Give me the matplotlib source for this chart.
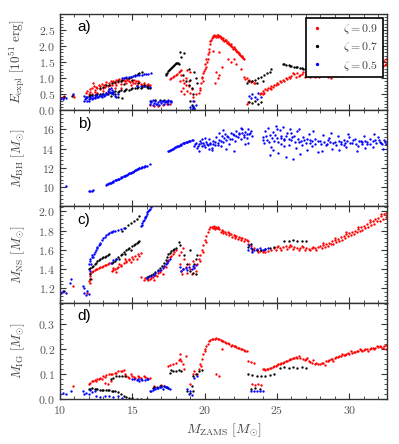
import numpy as np
import matplotlib
matplotlib.use("Agg")
from matplotlib import pyplot as plt
from matplotlib.ticker import AutoMinorLocator

plt.rcParams['font.family'] = 'serif'
plt.rcParams['font.serif'] = ['cmr10']
plt.rcParams['mathtext.fontset'] = 'cm'
plt.rcParams['axes.formatter.use_mathtext'] = True

# ---- data: (M_ZAMS, value) ----
a_red = [(10.2,0.42),(10.3,0.45),(10.9,0.48),(10.95,0.42),
    (11.8,0.55),(11.9,0.6),(12.0,0.52),(12.1,0.65),(12.2,0.7),(12.3,0.85),(12.4,0.62),(12.5,0.72),(12.6,0.68),
    (12.7,0.78),(12.8,0.75),(12.9,0.82),(13.0,0.7),(13.1,0.8),(13.2,0.88),(13.3,0.76),(13.4,0.85),(13.5,0.9),
    (13.6,0.8),(13.7,0.92),(13.8,0.86),(13.9,0.95),(14.0,0.88),(14.1,0.97),(14.2,0.82),(14.3,0.93),(14.4,1.0),
    (14.5,0.9),(14.6,0.85),(14.7,0.98),(14.8,0.92),(14.9,0.78),(15.0,0.9),(15.1,0.95),(15.2,0.85),(15.3,0.8),
    (15.4,0.9),(15.6,0.82),(15.8,0.85),(16.0,0.8),(16.2,0.78),
    (12.05,0.58),(12.35,0.75),(12.45,0.58),(12.75,0.65),(13.05,0.78),(13.15,0.72),(13.45,0.78),(13.65,0.88),
    (13.85,0.8),(14.05,0.95),(14.25,0.9),(14.45,0.95),(14.65,0.93),(14.85,0.88),(15.05,0.85),(15.25,0.92),
    (15.5,0.88),(15.7,0.8),(15.9,0.78),(16.1,0.82),
    (12.2,0.5),(12.6,0.55),(13.0,0.6),(13.4,0.65),(13.8,0.7),(14.2,0.7),
    (16.2,0.15),(16.5,0.12),(16.8,0.14),(17.1,0.15),(17.4,0.18),(17.6,0.2),
    (17.6,0.97),(17.7,1.0),(17.8,1.03),(17.9,1.06),(18.0,1.1),(18.1,1.14),(18.2,1.18),(18.3,1.22),(18.4,1.26),
    (18.4,1.1),(18.5,0.95),(18.6,0.85),(18.7,0.8),(18.5,0.7),(18.8,0.6),(18.9,0.75),(19.0,0.55),(19.1,0.65),
    (18.7,1.0),(18.9,0.9),(19.2,0.4),(19.3,0.3),(18.6,0.5),(18.4,0.6),(19.4,0.5),(18.3,0.9),(19.0,1.2),(18.8,1.25),
    (19.6,0.55),(19.7,0.7),(19.75,0.85),(19.8,1.0),(19.9,1.15),(20.0,1.3),(20.05,1.45),(20.1,1.6),(20.2,1.75),
    (20.3,1.9),(20.35,2.05),(20.4,2.15),(19.9,0.9),(20.1,1.35),(20.25,1.6),
    (19.65,0.62),(19.85,1.05),(19.95,1.22),(20.15,1.5),(20.3,1.8),(20.45,2.2),
    (20.5,2.25),(20.6,2.3),(20.7,2.32),(20.8,2.28),(20.9,2.33),(21.0,2.3),(21.1,2.28),(21.2,2.22),(21.3,2.2),
    (21.4,2.18),(21.5,2.15),(21.6,2.12),(21.7,2.05),(21.8,2.0),(21.9,1.98),(22.0,1.95),(22.1,1.9),(22.2,1.85),
    (22.3,1.8),(22.4,1.75),(22.5,1.7),(22.6,1.65),(22.7,1.6),
    (20.55,2.28),(20.65,2.33),(20.75,2.3),(20.85,2.35),(20.95,2.28),(21.05,2.32),(21.15,2.25),(21.25,2.24),
    (21.35,2.17),(21.45,2.2),(21.55,2.1),(21.65,2.08),(21.75,2.02),(21.85,2.05),(21.95,1.92),(22.05,1.98),
    (22.15,1.88),(22.25,1.82),(22.35,1.78),(22.45,1.72),(22.55,1.68),(22.65,1.62),
    (20.6,1.85),(21.0,1.8),(21.6,1.6),(21.8,1.5),(22.2,1.45),(22.5,1.3),(20.8,1.2),(21.0,1.1),(20.9,1.0),
    (20.7,0.85),(21.2,1.35),(22.0,1.6),
    (22.7,1.05),(22.8,0.98),(22.9,1.0),(23.0,0.92),(23.1,0.95),(23.2,0.88),(23.3,0.9),(23.4,0.86),(23.5,0.85),
    (22.9,0.2),(23.0,0.25),
    (23.8,0.52),(24.0,0.6),(24.2,0.65),(24.4,0.7),(24.6,0.75),(24.8,0.8),(25.0,0.85),(25.2,0.9),(25.4,0.95),
    (25.6,1.0),(25.8,1.05),(26.0,1.08),(24.1,0.55),(24.5,0.68),(24.9,0.78),(25.3,0.88),(25.7,0.98),
    (23.9,0.55),(24.3,0.62),(24.7,0.72),(25.1,0.82),(25.5,0.92),(25.9,1.02),(24.0,0.5),(24.6,0.65),
    (26.2,1.12),(26.4,1.15),(26.6,1.1),(26.8,1.18),(27.0,1.12),(27.2,1.08),(27.4,1.15),(27.6,1.05),(27.8,1.1),
    (28.0,1.12),(28.2,1.08),(28.4,1.15),(28.6,1.1),(28.8,1.18),(29.0,1.15),(29.2,1.2),(29.4,1.22),(29.6,1.18),
    (29.8,1.25),(30.0,1.28),(30.2,1.22),(30.4,1.3),(30.6,1.32),(30.8,1.28),(31.0,1.35),(31.2,1.38),(31.4,1.32),
    (31.6,1.4),(31.8,1.42),(32.0,1.45),(32.2,1.48),(32.4,1.52),(32.55,1.6),
    (26.3,1.05),(26.9,1.05),(27.5,1.2),(28.1,1.2),(28.7,1.02),(29.3,1.1),(29.9,1.15),(30.5,1.4),(31.1,1.25),
    (31.7,1.5),(32.3,1.38),(32.5,1.45),
    (26.1,1.15),(26.5,1.08),(26.7,1.14),(27.1,1.17),(27.3,1.03),(27.7,1.14),(27.9,1.05),(28.3,1.1),(28.5,1.05),
    (28.9,1.12),(29.1,1.08),(29.5,1.15),(29.7,1.25),(30.1,1.2),(30.3,1.35),(30.7,1.25),(30.9,1.35),(31.3,1.42),
    (31.5,1.3),(31.9,1.38),(32.1,1.52),(32.45,1.42),(27.9,1.18),(29.0,1.25),(30.0,1.18)]

a_black = [(10.3,0.4),(10.85,0.45),
    (11.8,0.42),(12.0,0.45),(12.2,0.47),(12.4,0.48),(12.6,0.5),(12.8,0.52),(13.0,0.5),(13.2,0.55),(13.4,0.58),
    (13.6,0.55),(13.8,0.6),(14.0,0.58),(14.2,0.62),(14.4,0.6),(14.6,0.65),(14.8,0.62),(15.0,0.68),(15.2,0.7),
    (15.4,0.72),(15.6,0.7),(15.8,0.74),(16.0,0.72),(16.2,0.7),(13.5,0.45),(14.0,0.4),(14.3,0.38),(13.8,0.5),
    (12.1,0.48),(12.5,0.47),(12.9,0.5),(13.3,0.52),(13.7,0.58),(14.1,0.6),(14.5,0.62),(14.9,0.66),(15.3,0.68),
    (15.7,0.72),(16.1,0.68),
    (12.8,0.7),(13.2,0.78),(13.6,0.85),(14.0,0.9),(14.3,0.95),(14.6,1.0),(14.9,1.05),(15.2,1.1),(15.5,1.15),
    (15.7,1.2),(14.4,0.82),(15.0,0.95),(15.4,0.85),(15.8,0.8),(16.1,0.75),
    (13.0,0.72),(13.4,0.8),(13.8,0.88),(14.2,0.92),(14.8,1.02),(15.4,1.12),
    (16.3,0.3),(16.6,0.32),(16.9,0.33),(17.2,0.32),(17.5,0.3),
    (17.3,1.1),(17.4,1.15),(17.5,1.22),(17.6,1.28),(17.7,1.33),(17.8,1.38),(17.9,1.42),(18.0,1.46),(18.1,1.48),
    (18.2,1.45),(18.3,1.8),(18.6,1.78),(18.4,1.65),
    (17.35,1.13),(17.55,1.25),(17.75,1.35),(17.95,1.44),(18.15,1.47),
    (18.5,1.1),(18.7,0.9),(18.9,0.8),(19.0,0.95),(19.1,0.7),(19.2,0.5),(19.0,0.3),(19.1,0.15),(19.2,0.1),
    (19.3,0.05),(18.9,1.3),(19.4,1.0),(19.5,0.85),(19.3,1.2),
    (22.9,0.85),(23.1,0.92),(23.3,0.9),(23.5,0.95),(23.7,1.0),(23.9,1.05),(24.1,1.1),(24.3,1.15),(24.5,1.2),
    (24.6,1.3),(23.6,0.85),(24.0,0.92),
    (23.1,0.25),(23.3,0.22),(23.5,0.28),(23.7,0.2),(23.9,0.25),
    (25.4,1.45),(25.6,1.42),(25.8,1.4),(26.0,1.38),(26.2,1.36),(26.4,1.34),(26.6,1.32),(26.8,1.3),(27.0,1.28),
    (25.5,1.44),(25.9,1.38),(26.3,1.35),(26.7,1.31),(26.9,1.3)]

a_blue = [(10.0,0.35),(10.1,0.38),(10.2,0.36),(10.4,0.38),(10.9,0.52),
    (11.7,0.3),(11.8,0.38),(11.9,0.42),(12.0,0.35),(12.1,0.4),(12.2,0.44),(12.3,0.38),(12.4,0.42),(12.5,0.46),
    (12.6,0.4),(12.7,0.45),(12.8,0.48),(12.9,0.42),(13.0,0.5),(13.1,0.46),(13.2,0.55),(13.3,0.6),(13.4,0.65),
    (13.5,0.55),(13.6,0.62),(13.7,0.5),(13.8,0.45),(13.9,0.4),(14.0,0.52),(11.7,0.45),(12.0,0.3),
    (11.75,0.35),(11.85,0.3),(12.05,0.38),(12.25,0.35),(12.45,0.38),(12.65,0.42),(12.85,0.44),(13.05,0.45),
    (13.25,0.5),(13.45,0.58),(13.55,0.68),(13.65,0.56),
    (14.3,1.0),(14.6,1.03),(14.9,1.05),(15.2,1.08),(15.5,1.1),(15.8,1.12),(16.1,1.14),(16.3,1.16),
    (14.45,1.02),(14.75,1.04),(15.05,1.06),(15.35,1.09),(15.65,1.11),(15.95,1.13),
    (15.3,0.75),(15.6,0.76),(15.9,0.74),(16.2,0.72),
    (16.2,0.2),(16.3,0.25),(16.4,0.15),(16.5,0.22),(16.6,0.28),(16.7,0.18),(16.8,0.25),(16.9,0.3),(17.0,0.22),
    (17.1,0.28),(17.2,0.2),(17.3,0.3),(17.4,0.25),(17.5,0.32),(17.6,0.28),(17.7,0.3),
    (16.25,0.3),(16.45,0.32),(16.65,0.2),(16.85,0.15),(17.05,0.3),(17.25,0.25),(17.45,0.2),(17.65,0.25),
    (19.0,0.1),(19.1,0.05),(19.2,0.12),(19.3,0.08),(19.4,0.15),(19.2,0.3),
    (23.1,0.45),(23.3,0.5),(23.5,0.42),(23.7,0.55),(23.9,0.4),(23.2,0.38),(23.6,0.35)]

b_blue = [(10.45,10.12),(12.0,9.65),(12.1,9.66),(12.2,9.65),(12.3,9.67),
    (13.2,10.25),(13.3,10.3),(13.4,10.4),(13.5,10.45),(13.6,10.55),(13.7,10.6),(13.8,10.7),(13.9,10.75),
    (14.0,10.85),(14.1,10.9),(14.2,11.0),(14.3,11.05),(14.4,11.15),(14.5,11.2),(14.6,11.3),(14.7,11.35),
    (14.8,11.45),(14.9,11.5),(15.0,11.6),(15.1,11.7),(15.2,11.75),(15.3,11.85),(15.4,11.9),(15.5,12.0),
    (15.6,12.05),(15.7,12.1),(15.8,12.15),(15.9,12.2),(16.2,12.45),
    (13.25,10.3),(13.45,10.45),(13.65,10.55),(13.85,10.75),(14.05,10.85),(14.25,11.05),(14.45,11.15),
    (14.65,11.3),(14.85,11.5),(15.05,11.6),(15.25,11.8),(15.45,11.95),(15.65,12.1),(15.85,12.2),(16.0,12.25),
    (17.5,13.75),(17.6,13.85),(17.7,13.9),(17.8,14.0),(17.9,14.1),(18.0,14.2),(18.1,14.25),(18.2,14.3),
    (18.3,14.4),(18.4,14.45),(18.5,14.55),(18.6,14.6),(18.7,14.7),(18.8,14.75),(18.9,14.8),(19.0,14.85),
    (17.55,13.8),(17.75,13.95),(17.95,14.15),(18.15,14.3),(18.35,14.4),(18.55,14.6),(18.75,14.7),(18.95,14.85),
    (19.1,14.9),(19.2,14.95),
    (19.3,14.3),(19.4,14.6),(19.5,14.1),(19.6,14.5),(19.7,14.8),(19.8,14.3),(19.9,14.6),(20.0,14.2),(20.1,14.7),
    (20.2,14.4),(20.3,15.0),(20.4,14.5),(20.5,14.1),(20.6,14.8),(20.7,14.4),(20.8,15.2),(20.9,14.6),(21.0,14.9),
    (21.1,14.3),(21.2,15.3),(21.3,14.7),(21.4,15.5),(21.5,14.9),(21.6,15.2),(21.7,14.5),(21.8,15.6),(21.9,15.0),
    (22.0,15.4),(22.1,14.8),(22.2,15.8),(22.3,15.2),(22.4,15.6),(22.5,15.0),(22.6,16.0),(22.7,15.4),(22.8,15.7),
    (22.9,15.1),(23.0,16.1),(23.1,15.5),(23.2,15.8),(23.3,15.3),
    (19.6,13.8),(20.0,15.1),(20.5,13.9),(21.0,15.6),(21.5,14.0),(22.0,13.8),(22.5,16.2),(23.0,14.6),(20.3,14.0),
    (21.3,15.9),(22.8,14.5),(19.8,15.0),
    (19.35,14.5),(19.55,14.3),(19.75,14.55),(19.95,14.4),(20.15,14.5),(20.35,14.6),(20.55,14.5),(20.75,14.7),
    (20.95,14.4),(21.15,14.8),(21.35,15.1),(21.55,15.3),(21.75,15.0),(21.95,15.5),(22.15,15.3),(22.35,15.5),
    (22.55,15.6),(22.75,15.2),(22.95,15.5),(23.15,15.6),
    (24.0,15.2),(24.1,14.6),(24.2,15.8),(24.3,14.9),(24.4,16.2),(24.5,15.4),(24.6,14.2),(24.7,15.7),(24.8,14.8),
    (24.9,16.4),(25.0,15.1),(25.1,13.6),(25.2,15.9),(25.3,14.5),(25.4,16.3),(25.5,15.0),(25.6,13.1),(25.7,15.6),
    (25.8,14.4),(25.9,16.0),(26.0,14.9),(26.1,12.9),(26.2,15.3),(26.3,14.1),(26.4,15.8),(26.5,14.7),(26.6,13.5),
    (26.8,15.2),(27.0,14.6),(27.2,15.5),(27.4,14.3),(27.6,15.0),(27.8,13.7),(28.0,14.8),(28.2,15.4),(28.4,14.4),
    (28.6,15.1),(28.8,14.0),(29.0,14.7),(29.2,15.3),(29.4,14.5),(29.6,14.9),(29.8,14.2),(30.0,15.2),(30.2,14.6),
    (30.4,15.0),(30.6,14.3),(30.8,14.8),(31.0,15.3),(31.2,14.5),(31.4,15.0),(31.6,14.2),(31.8,14.9),(32.0,15.2),
    (32.2,14.6),(32.4,14.9),(32.55,14.5),
    (24.5,13.3),(25.0,16.1),(25.5,14.3),(26.0,15.6),(26.5,16.0),(27.1,13.9),(27.5,15.8),(28.1,13.8),(28.7,15.6),
    (29.3,13.9),(29.9,15.5),(30.5,13.8),(31.1,14.1),(31.7,15.5),(32.3,14.0),(27.3,14.9),(28.5,14.9),(29.7,14.6),
    (30.9,14.7),(32.1,14.7),(26.7,14.4),(25.3,15.1),(24.7,13.9),
    (24.05,14.9),(24.25,15.3),(24.45,14.7),(24.65,15.1),(24.85,15.4),(25.05,14.7),(25.25,15.3),(25.45,14.9),
    (25.65,15.3),(25.85,15.0),(26.05,15.2),(26.25,14.7),(26.45,15.0),(26.65,14.8),(26.85,14.9),(27.05,15.0),
    (27.25,14.6),(27.45,14.8),(27.65,14.5),(27.85,14.8),(28.05,14.5),(28.25,14.7),(28.45,14.5),(28.65,14.7),
    (28.85,14.6),(29.05,14.4),(29.25,14.8),(29.45,14.7),(29.65,14.4),(29.85,14.8),(30.05,14.6),(30.25,14.9),
    (30.45,14.5),(30.65,14.8),(30.85,14.5),(31.05,14.8),(31.25,14.7),(31.45,14.5),(31.65,14.8),(31.85,14.6),
    (32.05,14.9),(32.25,14.5),(32.45,14.7)]

c_red = [(10.2,1.16),(10.9,1.22),
    (11.9,1.15),(12.0,1.28),(12.05,1.33),(12.1,1.36),(12.15,1.3),(12.1,1.25),
    (12.2,1.37),(12.4,1.39),(12.6,1.4),(12.8,1.42),(13.0,1.43),(13.2,1.44),(13.4,1.46),
    (12.3,1.38),(12.5,1.4),(12.7,1.41),(12.9,1.42),(13.1,1.44),(13.3,1.45),
    (13.6,1.38),(13.8,1.4),(14.0,1.42),(14.2,1.44),(14.4,1.46),(14.6,1.48),(14.8,1.5),(15.0,1.52),(15.2,1.54),
    (15.4,1.56),(15.6,1.57),(13.7,1.41),(14.1,1.45),(14.5,1.5),(14.9,1.47),(15.3,1.5),(13.9,1.37),
    (13.65,1.39),(13.95,1.41),(14.25,1.43),(14.55,1.47),(14.75,1.49),(15.05,1.5),(15.45,1.54),
    (15.8,1.29),(16.0,1.3),(16.2,1.3),(16.4,1.32),(16.6,1.34),(16.8,1.36),(17.0,1.39),(17.2,1.43),(17.4,1.47),
    (17.6,1.52),(17.8,1.56),(18.0,1.6),(15.6,1.32),(16.5,1.29),(17.1,1.35),
    (15.9,1.31),(16.1,1.29),(16.3,1.31),(16.7,1.33),(16.9,1.37),(17.3,1.42),(17.5,1.49),(17.7,1.54),(17.9,1.58),
    (18.2,1.55),(18.3,1.45),(18.4,1.38),(18.5,1.62),(18.6,1.5),(18.7,1.42),(18.8,1.36),(18.9,1.45),(19.0,1.4),
    (19.1,1.35),(19.2,1.48),(18.35,1.58),(19.3,1.42),(19.4,1.38),(18.45,1.35),
    (19.5,1.45),(19.6,1.5),(19.7,1.55),(19.8,1.6),(19.9,1.65),(20.0,1.7),(20.1,1.74),(20.2,1.78),(20.3,1.82),
    (20.4,1.84),(19.7,1.48),(19.9,1.58),(20.1,1.68),
    (20.5,1.84),(20.6,1.84),(20.7,1.83),(20.8,1.84),(20.9,1.83),(21.0,1.82),(21.2,1.81),(21.4,1.79),(21.6,1.78),
    (21.8,1.76),(22.0,1.75),(22.2,1.74),(22.4,1.73),(22.6,1.72),(22.8,1.71),(23.0,1.69),(21.1,1.79),(21.5,1.76),
    (21.9,1.73),(22.3,1.71),(22.7,1.69),(23.0,1.66),
    (20.55,1.83),(20.65,1.85),(20.75,1.82),(20.85,1.83),(20.95,1.84),(21.3,1.8),(21.7,1.77),(22.1,1.74),
    (22.5,1.72),(22.9,1.7),(21.3,1.77),(21.7,1.75),(22.1,1.72),(22.5,1.7),
    (23.2,1.64),(23.4,1.62),(23.6,1.6),(23.8,1.59),(24.0,1.58),(24.2,1.58),(24.4,1.59),(24.6,1.6),(23.3,1.59),
    (23.7,1.58),(24.1,1.6),
    (24.8,1.62),(25.0,1.63),(25.2,1.62),(25.4,1.63),(25.6,1.64),(25.8,1.63),(26.0,1.64),(26.2,1.63),(26.4,1.62),
    (26.6,1.62),(26.8,1.63),(27.0,1.62),(27.2,1.61),(27.4,1.62),(27.6,1.62),(27.8,1.63),
    (24.9,1.6),(25.3,1.6),(25.7,1.61),(26.1,1.61),(26.5,1.6),(26.9,1.6),(27.3,1.6),(27.7,1.6),(25.1,1.64),
    (25.9,1.65),(26.7,1.64),(27.5,1.63),
    (28.0,1.64),(28.2,1.65),(28.4,1.66),(28.6,1.67),(28.8,1.69),(29.0,1.7),(29.2,1.71),(29.4,1.73),(29.6,1.74),
    (29.8,1.76),(30.0,1.77),(30.2,1.79),(30.4,1.8),(30.6,1.82),(30.8,1.84),(31.0,1.85),(31.2,1.87),(31.4,1.89),
    (31.6,1.9),(31.8,1.92),(32.0,1.93),(32.2,1.95),(32.4,1.97),(32.55,1.98),
    (28.1,1.62),(28.5,1.64),(28.9,1.66),(29.3,1.69),(29.7,1.72),(30.1,1.75),(30.5,1.78),(30.9,1.81),(31.3,1.84),
    (31.7,1.87),(32.1,1.9),(32.5,1.94),
    (28.3,1.63),(28.7,1.66),(29.1,1.68),(29.5,1.7),(29.9,1.74),(30.3,1.76),(30.7,1.8),(31.1,1.83),(31.5,1.86),
    (31.9,1.9),(32.3,1.92),(28.2,1.67),(29.0,1.72),(29.8,1.78),(30.6,1.84),(31.4,1.91),(32.2,1.97)]

c_black = [(10.3,1.17),
    (12.0,1.4),(12.2,1.42),(12.4,1.45),(12.6,1.48),(12.8,1.5),(13.0,1.52),(13.2,1.54),(13.4,1.56),
    (12.1,1.41),(12.3,1.43),(12.5,1.46),(12.7,1.49),(12.9,1.51),(13.1,1.53),(13.3,1.55),
    (12.05,1.3),(12.1,1.35),
    (13.6,1.46),(13.8,1.48),(14.0,1.52),(14.2,1.55),(14.4,1.58),(14.6,1.6),(14.8,1.62),(15.0,1.64),(15.2,1.66),
    (15.4,1.68),(15.5,1.69),(14.1,1.5),(14.5,1.56),(14.9,1.6),
    (13.7,1.47),(13.9,1.5),(14.3,1.56),(14.7,1.61),(15.1,1.65),(15.3,1.67),
    (14.3,1.8),(14.5,1.83),(14.7,1.86),(14.9,1.88),(15.1,1.9),(15.3,1.92),(15.5,1.95),
    (16.0,1.32),(16.3,1.34),(16.6,1.37),(16.9,1.41),(17.2,1.46),(17.4,1.52),(17.6,1.57),(17.8,1.6),(18.0,1.62),
    (17.5,1.56),(16.15,1.33),(16.45,1.35),(16.75,1.39),(17.05,1.43),(17.3,1.49),(17.7,1.59),(17.9,1.61),
    (18.2,1.68),(18.3,1.65),(18.6,1.55),(18.8,1.45),(19.0,1.38),(19.2,1.36),(19.3,1.45),(19.4,1.5),(19.5,1.55),
    (19.0,1.6),(18.5,1.4),(19.4,1.35),
    (23.0,1.63),(23.3,1.61),(23.6,1.6),(23.9,1.6),(24.2,1.61),(24.5,1.62),(24.8,1.63),(23.2,1.66),
    (25.5,1.69),(25.8,1.69),(26.1,1.7),(26.4,1.69),(26.7,1.69),(27.0,1.69)]

c_blue = [(10.0,1.16),(10.1,1.15),(10.2,1.17),(10.4,1.15),(10.7,1.25),(10.8,1.3),
    (11.6,1.22),(11.7,1.15),(11.8,1.13),(11.9,1.17),(12.0,1.14),(11.7,1.2),
    (12.0,1.45),(12.1,1.5),(12.2,1.55),(12.3,1.52),(12.4,1.58),(12.5,1.6),(12.6,1.63),(12.7,1.65),(12.8,1.67),
    (12.9,1.7),(13.0,1.72),(13.2,1.75),(13.4,1.77),(13.6,1.79),(13.8,1.8),(14.0,1.81),(14.2,1.82),(14.4,1.83),
    (12.05,1.38),(12.15,1.45),
    (12.1,1.48),(12.25,1.53),(12.35,1.56),(12.55,1.62),(12.75,1.66),(13.1,1.73),(13.3,1.76),(13.5,1.78),
    (13.7,1.8),
    (15.6,1.85),(15.7,1.88),(15.8,1.91),(15.9,1.94),(16.0,1.97),(16.1,2.0),(16.2,2.02),(16.3,2.04),
    (15.65,1.86),(15.75,1.9),(15.85,1.93),(15.95,1.95),(16.05,1.99),(16.15,2.01),
    (13.5,1.46),(13.7,1.49),(13.9,1.5),
    (16.0,1.31),(16.3,1.33),(16.6,1.36),(16.9,1.39),(17.2,1.43),(17.4,1.46),(17.6,1.5),(16.1,1.32),(16.5,1.34),
    (16.8,1.38),(17.1,1.41),(17.3,1.45),(17.5,1.48),
    (18.3,1.42),(18.5,1.4),(18.7,1.41),(18.9,1.42),(19.1,1.4),(19.3,1.41),(18.4,1.38),(18.8,1.39),(19.2,1.43),
    (19.4,1.44),
    (23.0,1.6),(23.2,1.62),(23.4,1.6),(23.6,1.61),(23.8,1.62),(24.0,1.6),(24.2,1.61),(24.4,1.62),(23.1,1.65),
    (23.3,1.58)]

d_red = [(10.9,0.05),
    (12.0,0.06),(12.2,0.07),(12.4,0.075),(12.6,0.08),(12.8,0.085),(13.0,0.09),(13.2,0.095),(13.4,0.1),(13.6,0.1),
    (13.8,0.105),(14.0,0.11),(14.2,0.11),(14.4,0.115),(12.1,0.065),(12.5,0.07),(12.9,0.08),(13.3,0.06),(13.5,0.07),
    (13.1,0.065),(12.3,0.072),(12.7,0.08),(13.1,0.088),(13.5,0.098),(13.9,0.105),(14.3,0.112),
    (14.6,0.09),(14.8,0.085),(15.0,0.09),(15.2,0.085),(15.4,0.09),(15.6,0.085),(15.8,0.09),(16.0,0.085),
    (16.2,0.085),(14.5,0.1),(14.9,0.1),(14.7,0.088),(15.1,0.088),(15.5,0.088),(15.9,0.087),
    (17.0,0.055),(16.5,0.05),
    (17.5,0.13),(17.6,0.135),(17.8,0.14),(18.0,0.145),(18.2,0.155),(18.3,0.16),(18.4,0.15),(18.5,0.14),
    (18.3,0.18),(18.7,0.17),(18.6,0.12),
    (19.0,0.06),(19.3,0.11),(19.2,0.1),
    (19.5,0.1),(19.6,0.12),(19.7,0.14),(19.8,0.16),(19.9,0.18),(20.0,0.19),(20.1,0.21),(20.2,0.22),(20.3,0.23),
    (20.4,0.235),(19.75,0.13),(20.05,0.2),
    (20.5,0.24),(20.7,0.24),(20.9,0.24),(21.1,0.235),(21.3,0.23),(21.5,0.225),(21.7,0.22),(21.9,0.215),
    (22.1,0.21),(22.3,0.205),(22.5,0.2),(22.7,0.195),(22.9,0.19),(20.8,0.1),(21.0,0.09),(21.2,0.2),(21.8,0.21),
    (20.6,0.238),(20.8,0.242),(21.0,0.238),(21.2,0.232),(21.4,0.228),(21.6,0.222),(22.0,0.212),(22.2,0.207),
    (22.4,0.202),(22.6,0.198),(22.8,0.193),
    (23.0,0.15),(23.2,0.148),(23.4,0.145),
    (23.3,0.058),(23.5,0.055),(23.7,0.06),(23.9,0.055),
    (24.0,0.12),(24.2,0.115),(24.4,0.12),(24.6,0.125),(24.8,0.13),(25.0,0.135),(25.2,0.14),(25.4,0.145),
    (25.6,0.15),(25.8,0.155),(26.0,0.16),(26.2,0.165),(26.4,0.165),(26.6,0.162),(26.8,0.16),(27.0,0.158),
    (27.2,0.15),(27.4,0.145),(27.6,0.14),(27.8,0.138),(28.0,0.14),(28.2,0.145),(28.4,0.15),(28.6,0.155),
    (28.8,0.16),(29.0,0.165),(29.2,0.168),(29.4,0.17),(29.6,0.175),(29.8,0.178),(30.0,0.18),(30.2,0.185),
    (30.4,0.188),(30.6,0.19),(30.8,0.195),(31.0,0.197),(31.2,0.2),(31.4,0.2),(31.6,0.203),(31.8,0.205),
    (32.0,0.207),(32.2,0.208),(32.4,0.21),(32.55,0.215),
    (26.5,0.17),(27.1,0.165),(27.5,0.155),(28.3,0.135),(28.9,0.15),(29.5,0.18),(30.1,0.19),(30.7,0.2),
    (31.3,0.19),(31.9,0.21),(32.5,0.2),
    (24.1,0.118),(24.3,0.12),(24.5,0.122),(24.7,0.128),(24.9,0.132),(25.1,0.138),(25.3,0.142),(25.5,0.148),
    (25.7,0.152),(25.9,0.158),(26.1,0.162),(26.3,0.168),(26.9,0.155),(27.3,0.148),(27.7,0.142),(28.1,0.142),
    (28.5,0.152),(28.7,0.158),(29.1,0.166),(29.3,0.17),(29.7,0.176),(29.9,0.182),(30.3,0.186),(30.5,0.192),
    (30.9,0.192),(31.1,0.2),(31.5,0.205),(31.7,0.198),(32.1,0.212),(32.3,0.205)]

d_black = [(12.0,0.04),(12.2,0.042),(12.4,0.04),(12.6,0.038),(12.8,0.037),(13.0,0.036),(13.2,0.035),(13.4,0.035),
    (13.6,0.033),(13.8,0.03),(14.0,0.027),(14.2,0.02),(14.4,0.012),(14.6,0.008),(14.8,0.004),(15.0,0.002),
    (15.3,0.001),(15.6,0.0),(16.0,0.0),
    (12.1,0.041),(12.5,0.039),(12.9,0.036),(13.3,0.035),(13.7,0.032),
    (13.5,0.08),(13.7,0.085),(13.9,0.09),(14.1,0.09),(14.3,0.092),(14.5,0.09),
    (16.4,0.045),(16.7,0.048),(17.0,0.05),(17.3,0.048),(17.5,0.045),(16.5,0.046),(16.9,0.05),(17.2,0.05),
    (17.6,0.105),(17.8,0.11),(18.0,0.112),(18.2,0.115),(18.4,0.11),(17.7,0.115),
    (18.8,0.03),(19.0,0.025),(19.2,0.03),(19.1,0.05),
    (19.2,0.09),(19.4,0.1),(19.6,0.11),(19.8,0.115),
    (23.0,0.1),(23.3,0.095),(23.6,0.092),(23.9,0.09),(24.2,0.092),(24.5,0.095),(24.8,0.098),
    (23.2,0.04),(23.5,0.042),(23.8,0.04),
    (25.2,0.125),(25.5,0.126),(25.8,0.125),(26.1,0.126),(26.4,0.125),(26.7,0.126),(27.0,0.125)]

d_blue = [(10.0,0.02),(10.2,0.022),(10.4,0.02),(10.8,0.03),
    (11.6,0.03),(11.8,0.025),(12.0,0.02),(12.2,0.028),(12.4,0.03),(11.7,0.02),(12.1,0.035),
    (12.5,0.01),(12.8,0.008),(13.1,0.012),(13.4,0.01),(13.7,0.006),(14.0,0.01),(14.3,0.005),
    (15.0,0.08),(15.3,0.075),(15.6,0.078),(15.9,0.075),(16.1,0.08),(15.5,0.07),
    (15.1,0.078),(15.4,0.08),(15.7,0.076),(16.0,0.078),
    (16.2,0.03),(16.4,0.035),(16.6,0.04),(16.8,0.045),(17.0,0.048),(17.2,0.05),(17.4,0.047),(17.6,0.04),
    (16.5,0.045),(17.1,0.04),(16.3,0.032),(16.7,0.043),(16.9,0.046),(17.3,0.049),(17.5,0.045),
    (18.9,0.02),(19.0,0.03),(19.1,0.015),(18.8,0.04),(19.3,0.085),(19.5,0.09),
    (23.2,0.03),(23.4,0.032),(23.6,0.03),(23.8,0.032),(24.0,0.03)]

zeta_labels = [r"$\zeta = 0.9$", r"$\zeta = 0.7$", r"$\zeta = 0.5$"]
colors = ["red", "black", "blue"]

fig = plt.figure(figsize=(3.99, 4.44), dpi=100)
gs = fig.add_gridspec(4, 1, left=0.150, right=0.970, top=0.9685, bottom=0.1014, hspace=0)
axes = [fig.add_subplot(gs[i]) for i in range(4)]


def dots(ax, pts, col, label=None):
    p = np.array(pts)
    ax.plot(p[:, 0], p[:, 1], linestyle='none', marker='o', ms=1.7, mew=0,
            color=col, label=label)


for pts, col, lab in zip([a_red, a_black, a_blue], colors, zeta_labels):
    dots(axes[0], pts, col, lab)
dots(axes[1], b_blue, "blue")
for pts, col in zip([c_red, c_black, c_blue], colors):
    dots(axes[2], pts, col)
for pts, col in zip([d_red, d_black, d_blue], colors):
    dots(axes[3], pts, col)

axes[0].set_ylim(0, 3.0)
axes[0].set_yticks([0.0, 0.5, 1.0, 1.5, 2.0, 2.5])
axes[1].set_ylim(8, 18)
axes[1].set_yticks([10, 12, 14, 16])
axes[2].set_ylim(1.05, 2.05)
axes[2].set_yticks([1.2, 1.4, 1.6, 1.8, 2.0])
axes[3].set_ylim(0, 0.385)
axes[3].set_yticks([0.0, 0.1, 0.2, 0.3])

ylabels = [r"$E_{\rm expl}\ [10^{51}\ {\rm erg}]$", r"$M_{\rm BH}\ [M_{\odot}]$",
           r"$M_{\rm NS}\ [M_{\odot}]$", r"$M_{\rm IG}\ [M_{\odot}]$"]
tags = ["a)", "b)", "c)", "d)"]

for ax, yl, tag in zip(axes, ylabels, tags):
    ax.set_xlim(10, 32.6)
    ax.set_xticks([10, 15, 20, 25, 30])
    ax.xaxis.set_minor_locator(AutoMinorLocator(5))
    ax.yaxis.set_minor_locator(AutoMinorLocator(5))
    ax.tick_params(which='both', direction='in', top=True, right=True, labelsize=8.5, color='#333333')
    ax.tick_params(which='major', length=4)
    ax.tick_params(which='minor', length=2)
    for s in ax.spines.values():
        s.set_linewidth(1.0)
        s.set_color('#333333')
    ax.set_ylabel(yl, fontsize=9.5, color='#444444')
    ax.yaxis.set_label_coords(-0.10, 0.5)
    ax.text(0.055, 0.86, tag, transform=ax.transAxes, fontsize=11,
            family='Liberation Sans', va='center')
    if ax is not axes[3]:
        ax.tick_params(labelbottom=False)
    for t in ax.get_yticklabels() + ax.get_xticklabels():
        t.set_color('#555555')

axes[3].set_xlabel(r"$M_{\rm ZAMS}\ [M_{\odot}]$", fontsize=10, color='#444444')

leg = axes[0].legend(loc='upper right', numpoints=1, fontsize=8.5, markerscale=1.4,
                     fancybox=False, framealpha=1, edgecolor='black',
                     handlelength=1.2, handletextpad=1.6, borderpad=0.4, labelspacing=0.35,
                     borderaxespad=0.3)
leg.get_frame().set_linewidth(1.2)
for t in leg.get_texts():
    t.set_color('#444444')

fig.savefig("out.png", dpi=100)
